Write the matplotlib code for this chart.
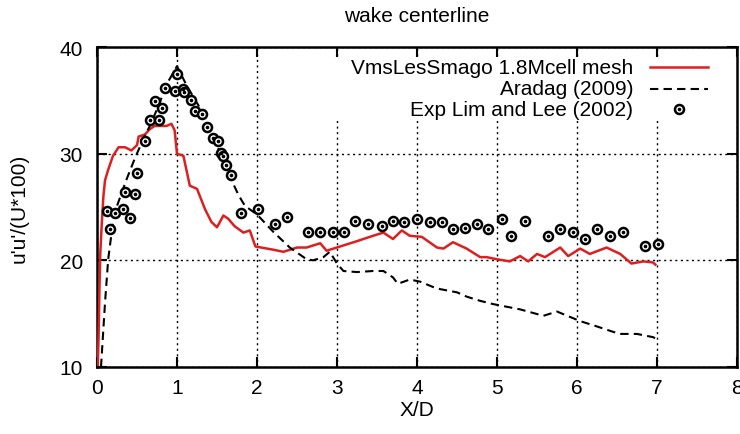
import matplotlib
matplotlib.use('agg')
import matplotlib.pyplot as plt
from matplotlib.patches import Rectangle

# VmsLesSmago, 1.8M cell mesh
les_x = [0.01, 0.02, 0.03, 0.04, 0.06, 0.08, 0.10, 0.14, 0.20, 0.27, 0.35, 0.43, 0.50,
         0.52, 0.60, 0.66, 0.72, 0.87, 0.93, 0.97, 1.00, 1.08, 1.16, 1.25, 1.35, 1.43,
         1.50, 1.58, 1.64, 1.72, 1.83, 1.91, 1.98, 2.20, 2.33, 2.50, 2.62, 2.79, 2.87,
         3.04, 3.25, 3.45, 3.58, 3.70, 3.81, 3.91, 4.06, 4.25, 4.33, 4.45, 4.62, 4.79,
         4.87, 5.00, 5.16, 5.29, 5.39, 5.50, 5.60, 5.79, 5.89, 6.04, 6.16, 6.37, 6.54,
         6.68, 6.83, 6.95, 6.98]
les_y = [10.2, 13.0, 17.0, 20.5, 23.5, 26.0, 27.5, 28.5, 29.8, 30.6, 30.6, 30.3, 30.8,
         31.6, 31.8, 32.3, 32.6, 32.6, 32.8, 32.2, 30.0, 29.8, 27.0, 26.7, 24.8, 23.6,
         23.1, 24.2, 23.9, 23.2, 22.6, 22.8, 21.3, 21.0, 20.8, 21.2, 21.2, 21.6, 20.9,
         21.3, 21.8, 22.3, 22.6, 22.0, 22.8, 22.3, 22.2, 21.2, 21.1, 21.7, 21.1, 20.3,
         20.3, 20.1, 19.9, 20.4, 19.9, 20.6, 20.3, 21.2, 20.4, 21.1, 20.6, 21.2, 20.6,
         19.7, 19.9, 19.8, 19.6]

# Aradag (2009)
ara_x = [0.05, 0.10, 0.14, 0.20, 0.25, 0.37, 0.47, 0.58, 0.66, 0.77, 0.87, 1.00, 1.12,
         1.27, 1.41, 1.54, 1.64, 1.77, 1.85, 2.00, 2.20, 2.41, 2.62, 2.70, 2.83, 2.91,
         3.00, 3.08, 3.25, 3.45, 3.58, 3.70, 3.76, 3.91, 4.04, 4.20, 4.29, 4.50, 4.62,
         4.79, 4.95, 5.29, 5.58, 5.75, 6.04, 6.25, 6.45, 6.54, 6.75, 6.95, 7.00]
ara_y = [10.0, 16.0, 20.1, 23.6, 25.1, 27.6, 29.5, 31.4, 32.6, 34.5, 36.5, 38.2, 36.4,
         34.5, 32.0, 30.1, 28.2, 26.1, 25.1, 24.3, 22.7, 21.2, 20.1, 20.0, 20.3, 20.8,
         19.7, 19.0, 18.9, 19.0, 19.0, 18.4, 17.8, 18.2, 18.0, 17.5, 17.3, 17.0, 16.6,
         16.2, 15.9, 15.4, 14.8, 15.2, 14.3, 13.8, 13.3, 13.1, 13.1, 12.8, 12.6]

# Exp Lim and Lee (2002)
exp_x = [0.12, 0.16, 0.22, 0.32, 0.35, 0.41, 0.47, 0.50, 0.60, 0.66, 0.72, 0.77, 0.81,
         0.85, 0.97, 1.00, 1.07, 1.09, 1.18, 1.22, 1.31, 1.38, 1.45, 1.51, 1.55, 1.58,
         1.61, 1.68, 1.80, 2.01, 2.22, 2.37, 2.64, 2.79, 2.95, 3.09, 3.23, 3.39, 3.56,
         3.70, 3.84, 4.00, 4.16, 4.31, 4.45, 4.60, 4.75, 4.89, 5.06, 5.18, 5.35, 5.64,
         5.79, 5.95, 6.10, 6.25, 6.41, 6.57, 6.85, 7.01]
exp_y = [24.6, 22.9, 24.4, 24.8, 26.4, 24.0, 26.2, 28.2, 31.2, 33.2, 34.9, 33.2, 34.3,
         36.2, 35.9, 37.5, 36.1, 35.8, 35.0, 34.0, 33.7, 32.5, 31.5, 31.2, 30.1, 29.8,
         28.9, 28.0, 24.4, 24.8, 23.4, 24.1, 22.7, 22.7, 22.7, 22.7, 23.7, 23.4, 23.2,
         23.7, 23.6, 23.9, 23.6, 23.6, 22.9, 23.0, 23.4, 22.9, 23.9, 22.3, 23.7, 22.3,
         22.9, 22.7, 22.0, 22.9, 22.3, 22.7, 21.3, 21.5]

labels = ['VmsLesSmago 1.8Mcell mesh', 'Aradag (2009)', 'Exp Lim and Lee (2002)']
red = '#dd1f1f'

plt.rcParams['font.family'] = ['Liberation Sans', 'DejaVu Sans']
plt.rcParams['font.size'] = 15

fig = plt.figure(figsize=(7.4, 4.35), dpi=100)
ax = fig.add_axes([97 / 740, 1 - 368 / 435, 640 / 740, 320 / 435])

ax.set_xlim(0, 8)
ax.set_ylim(10, 40)
ax.set_xticks(range(0, 9))
ax.set_yticks([10, 20, 30, 40])
ax.set_axisbelow(True)
ax.grid(True, color='black', linestyle=(0, (1.5, 2.5)), linewidth=1.0)
ax.tick_params(direction='in', length=7, width=1.5, top=True, right=True)
ax.tick_params(axis='x', pad=8)
ax.tick_params(axis='y', pad=10)
for s in ax.spines.values():
    s.set_linewidth(1.8)

# key area is opaque, grid does not show through it
ax.add_patch(Rectangle((0.365, 0.775), 0.635, 0.195, transform=ax.transAxes,
                       facecolor='white', edgecolor='none', zorder=0.8))

ms_ring, ms_dot = 6.5, 1.6

ax.plot(les_x, les_y, color=red, lw=1.8, zorder=3)
ax.plot(ara_x, ara_y, color='black', lw=1.5, ls=(0, (4, 2.5)), zorder=3)
ax.plot(exp_x, exp_y, ls='none', marker='o', ms=ms_ring, mfc='white', mec='black',
        mew=1.8, zorder=4)
ax.plot(exp_x, exp_y, ls='none', marker='o', ms=ms_dot, color='black', zorder=5)

# gnuplot style key: right aligned labels, samples to the right
key_y = [0.9375, 0.869, 0.806]
tx, x0, x1 = 0.8375, 0.864, 0.955
for lab, ky in zip(labels, key_y):
    ax.text(tx, ky, lab, transform=ax.transAxes, ha='right', va='center', zorder=6)
ax.plot([x0, x1], [key_y[0]] * 2, transform=ax.transAxes, color=red, lw=1.8, zorder=6)
ax.plot([x0, x1], [key_y[1]] * 2, transform=ax.transAxes, color='black', lw=1.5,
        ls=(0, (4, 2.5)), zorder=6)
xm = (x0 + x1) / 2
ax.plot([xm], [key_y[2]], transform=ax.transAxes, marker='o', ms=ms_ring, mfc='white',
        mec='black', mew=1.8, zorder=6)
ax.plot([xm], [key_y[2]], transform=ax.transAxes, marker='o', ms=ms_dot, color='black',
        zorder=7)

fig.text(417 / 740, 1 - 16 / 435, 'wake centerline', ha='center', va='center')
fig.text(417 / 740, 1 - 411 / 435, 'X/D', ha='center', va='center')
fig.text(19 / 740, 1 - 208 / 435, "u'u'/(U*100)", rotation=90, ha='center', va='center')

fig.savefig('out.png', dpi=100)
